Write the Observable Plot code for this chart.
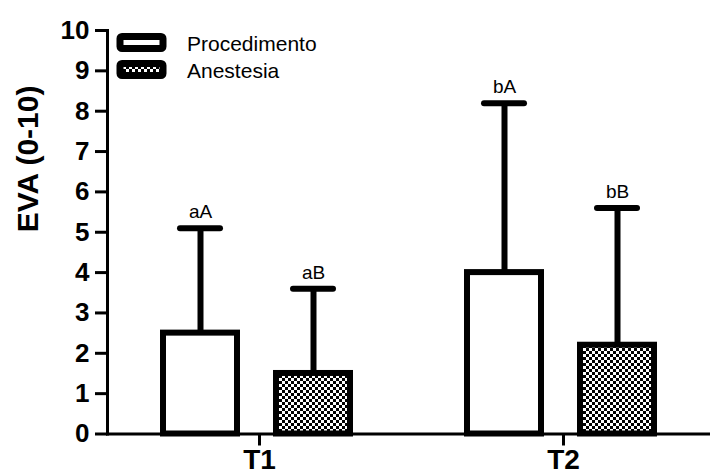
<!DOCTYPE html>
<html><head><meta charset="utf-8">
<script src="https://cdn.jsdelivr.net/npm/d3@7"></script>
<script src="https://cdn.jsdelivr.net/npm/@observablehq/plot@0.6"></script>
<style>
body{margin:0;background:#fff;font-family:"Liberation Sans",Arial,sans-serif;}
#wrap{position:relative;width:710px;height:475px;}
#legend{position:absolute;left:0;top:0;}
</style></head><body>
<div id="wrap"><div id="chart"></div><svg id="legend" width="340" height="90"></svg></div>
<script>
// ---- data ----
const times = ["T1", "T1", "T2", "T2"];
const groups = ["Procedimento", "Anestesia", "Procedimento", "Anestesia"];
const means = [2.5, 1.5, 4.0, 2.2];
const errTops = [5.1, 3.6, 8.2, 5.6];
const sigLabels = ["aA", "aB", "bA", "bB"];
const timeDomain = ["T1", "T2"];
const groupDomain = ["Procedimento", "Anestesia"];
const yTicks = [0, 1, 2, 3, 4, 5, 6, 7, 8, 9, 10];
const yLabel = "EVA (0-10)";

// ---- styles ----
const groupFill = {Procedimento: "white", Anestesia: "url(#checker)"};
const FONT = "'Liberation Sans', Arial, sans-serif";

const data = times.map((t, i) => ({time: t, group: groups[i], mean: means[i], err: errTops[i], sig: sigLabels[i]}));

const chart = Plot.plot({
  width: 710, height: 475,
  marginTop: 30, marginBottom: 41.5, marginLeft: 107, marginRight: 13,
  fx: {domain: timeDomain, range: [107, 715], padding: 0},
  x: {domain: groupDomain, paddingInner: 0.342, paddingOuter: 0.513, align: 0.478, axis: null},
  y: {domain: [0, 10]},
  style: {fontFamily: FONT, color: "black", background: "white"},
  marks: [
    Plot.barY(data, {fx: "time", x: "group", y: "mean", fill: d => groupFill[d.group], stroke: "black", strokeWidth: 6}),
    Plot.ruleX(data, {fx: "time", x: "group", y1: "mean", y2: "err", stroke: "black", strokeWidth: 6}),
    Plot.tickY(data, {fx: "time", x: "group", y: "err", stroke: "black", strokeWidth: 6, strokeLinecap: "round", insetLeft: 17, insetRight: 17}),
    Plot.text(data, {fx: "time", x: "group", y: "err", text: "sig", dy: -10, lineAnchor: "bottom", fontSize: 19, fill: "black"}),
    Plot.frame({anchor: "bottom", facet: "super", stroke: "black", strokeWidth: 3}),
    Plot.frame({anchor: "left", facet: "super", stroke: "black", strokeWidth: 3}),
    Plot.text([yLabel], {facet: "super", frameAnchor: "left", rotate: -90, dx: -79, lineAnchor: "middle", fontSize: 30, fontWeight: "bold", fill: "black"}),
    Plot.axisY({ticks: yTicks, tickSize: 12, tickPadding: 6, fontSize: 26, fontWeight: "bold", strokeWidth: 3, label: null}),
    Plot.axisFx({anchor: "bottom", tickSize: 12, tickPadding: 3, fontSize: 28, fontWeight: "bold", strokeWidth: 3, label: null})
  ]
});

d3.select(chart).insert("defs", ":first-child").html(
  '<pattern id="checker" patternUnits="userSpaceOnUse" width="6" height="6">' +
  '<rect width="6" height="6" fill="white"/><rect width="3" height="3" fill="black"/>' +
  '<rect x="3" y="3" width="3" height="3" fill="black"/></pattern>');
document.getElementById("chart").appendChild(chart);

// ---- legend (inside plot area, top-left) ----
const lg = d3.select("#legend");
groupDomain.forEach((g, i) => {
  lg.append("rect").attr("x", 120).attr("y", 36.5 + i * 27).attr("width", 43).attr("height", 12)
    .attr("rx", 2).attr("fill", groupFill[g]).attr("stroke", "black").attr("stroke-width", 7);
  lg.append("text").attr("x", 187).attr("y", 51 + i * 27).attr("font-size", 21)
    .attr("font-family", FONT).attr("fill", "black").text(g);
});
</script>
</body></html>
